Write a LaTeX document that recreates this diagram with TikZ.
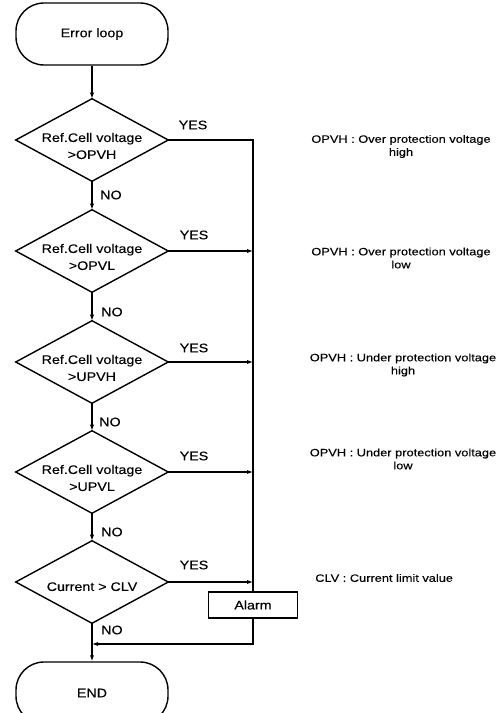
\documentclass[tikz,border=0pt]{standalone}
\usepackage{fontspec}
\setmainfont{Liberation Sans}
\newfontfamily\flowfont[FakeStretch=1.15,FakeBold=0.25]{Liberation Sans}
\newfontfamily\notefont[FakeStretch=1.2,FakeBold=0.2]{Liberation Sans}
\usetikzlibrary{arrows.meta}
\begin{document}
\begin{tikzpicture}[x=0.75pt,y=-0.75pt,
  line/.style={line width=1.05pt},
  arr/.style={line width=1.05pt,-{Latex[length=4.5pt,width=3.2pt]}},
  term/.style={draw,line width=1.05pt,rectangle,rounded corners=21pt,minimum width=114pt,minimum height=46.5pt,inner sep=0pt,font=\flowfont\fontsize{9.3}{12.75}\selectfont},
  dia/.style={rectangle,draw=none,minimum width=114pt,minimum height=61.5pt,inner sep=0pt},
  dtext/.style={align=center,inner sep=0pt,font=\flowfont\fontsize{9.3}{12.75}\selectfont},
  alarmbox/.style={draw,line width=1.05pt,rectangle,minimum width=66.75pt,minimum height=19.5pt,inner sep=0pt,font=\flowfont\fontsize{9.3}{12.75}\selectfont},
  lbl/.style={inner sep=0pt,font=\flowfont\fontsize{9.3}{12.75}\selectfont},
  note/.style={align=center,inner sep=0pt,font=\notefont\fontsize{8}{9.75}\selectfont}
]
\useasboundingbox (0,0) rectangle (503,713);
\clip (0,0) rectangle (503,713);

% nodes
\node[term] (start) at (92,34) {Error loop};
\node[dia] (d1) at (92,140) {};
\node[dia] (d2) at (92,251) {};
\node[dia] (d3) at (92,362) {};
\node[dia] (d4) at (92,472) {};
\node[dia] (d5) at (92,582) {};
\node[alarmbox] (alarm) at (253,605) {Alarm};
\node[term] (end) at (92,693) {END};
\coordinate (m) at (92,644);

% diamonds
\foreach \d in {d1,d2,d3,d4,d5}
  \draw[line] (\d.north) -- (\d.east) -- (\d.south) -- (\d.west) -- cycle;

% diamond texts
\node[dtext] at ([yshift=-4.5pt]d1.center) {Ref.Cell voltage\\>OPVH};
\node[dtext] at ([yshift=-4.5pt]d2.center) {Ref.Cell voltage\\>OPVL};
\node[dtext] at ([yshift=-4.5pt]d3.center) {Ref.Cell voltage\\>UPVH};
\node[dtext] at ([yshift=-4.5pt]d4.center) {Ref.Cell voltage\\>UPVL};
\node[dtext] at ([yshift=-3.5pt]d5.center) {Current > CLV};

% connectors
\draw[arr] (start.south) -- (d1.north);
\draw[arr] (d1.south) -- (d2.north);
\draw[arr] (d2.south) -- (d3.north);
\draw[arr] (d3.south) -- (d4.north);
\draw[arr] (d4.south) -- (d5.north);
\draw[arr] (d5.south) -- (end.north);
\draw[line] (d1.east) -| (alarm.north);
\foreach \d in {d2,d3,d4,d5}
  \draw[arr] (\d.east) -- (\d.east -| alarm.north);
\draw[arr] (alarm.south) |- (m);

% YES / NO labels
\node[lbl] at (193,125) {YES};
\node[lbl] at (194,235) {YES};
\node[lbl] at (194,348) {YES};
\node[lbl] at (194,456) {YES};
\node[lbl] at (194,565) {YES};
\node[lbl,anchor=west] at (100,195) {NO};
\node[lbl,anchor=west] at (101,312) {NO};
\node[lbl,anchor=west] at (99,422) {NO};
\node[lbl,anchor=west] at (101,532) {NO};
\node[lbl,anchor=west] at (101,630) {NO};

% notes
\node[note] at (401,146.5) {OPVH : Over protection voltage\\high};
\node[note] at (401,258) {OPVH : Over protection voltage\\low};
\node[note] at (403,365) {OPVH : Under protection voltage\\high};
\node[note] at (403,459) {OPVH : Under protection voltage\\low};
\node[note,anchor=west] at (315,578) {CLV : Current limit value};
\end{tikzpicture}
\end{document}
